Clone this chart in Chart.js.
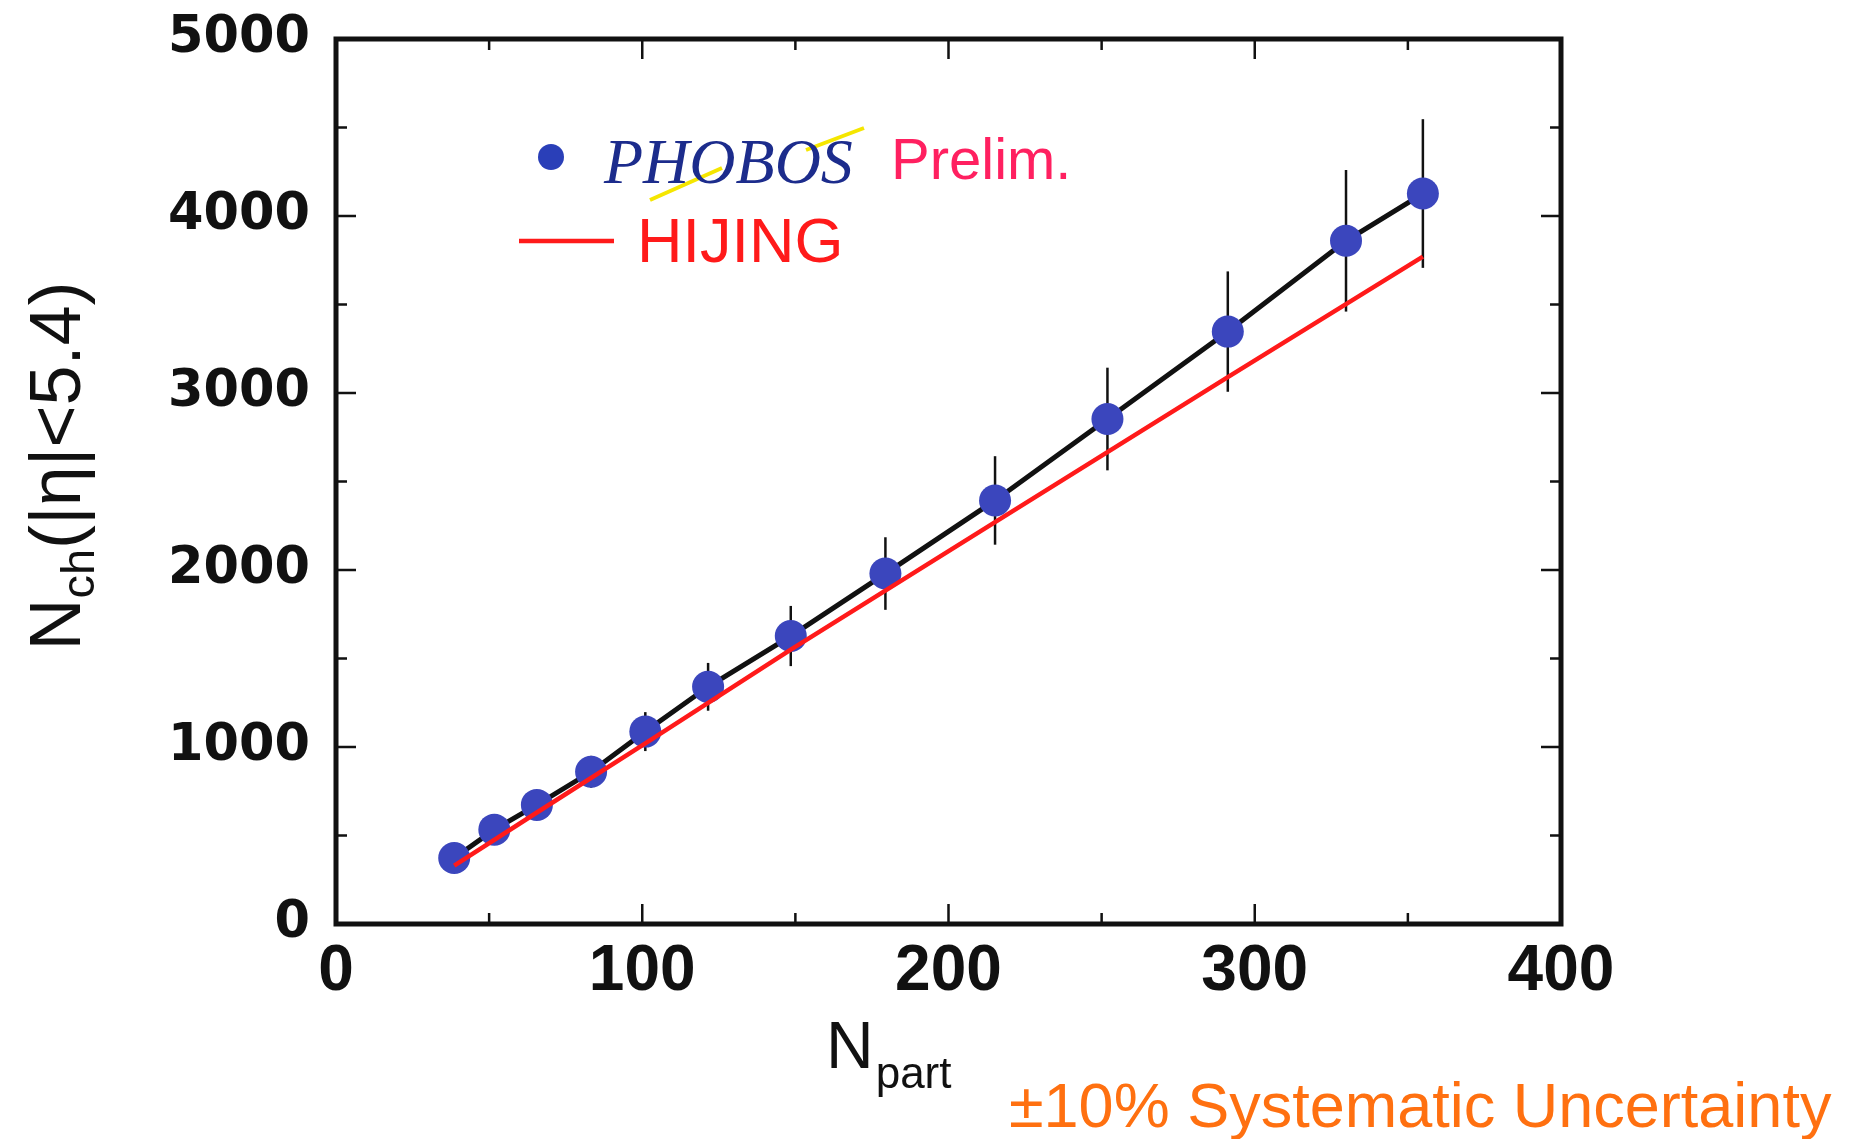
<!DOCTYPE html>
<html>
<head>
<meta charset="utf-8">
<script src="https://cdn.jsdelivr.net/npm/chart.js@4"></script>
<style>
  body { margin: 0; background: #fff; }
</style>
</head>
<body>
<canvas id="nchChart" width="1851" height="1139"></canvas>
<script>
// PHOBOS preliminary points
const nPart = [38.6, 51.7, 65.6, 83.3, 101, 121.5, 148.5, 179.4, 215.2, 251.9, 291.2, 329.8, 354.9];
const nCh = [373, 533, 673, 860, 1087, 1340, 1627, 1980, 2393, 2853, 3347, 3860, 4127];
const nChErr = [40, 55, 70, 90, 110, 135, 170, 205, 250, 290, 340, 400, 420];

// HIJING curve
const hijingNpart = [38.6, 65.6, 101, 148.5, 215.2, 291.2, 354.9];
const hijingNch = [330, 630, 1020, 1550, 2270, 3090, 3770];

const xTicks = [0, 100, 200, 300, 400];
const yTicks = [0, 1000, 2000, 3000, 4000, 5000];

const toXY = (xs, ys) => xs.map((x, i) => ({ x: x, y: ys[i] }));

const decor = {
  id: 'decor',
  beforeDatasetsDraw(chart) {
    const { ctx, scales: { x, y } } = chart;
    ctx.save();
    ctx.strokeStyle = '#111';
    ctx.lineWidth = 2.5;
    nPart.forEach((v, i) => {
      const px = x.getPixelForValue(v);
      ctx.beginPath();
      ctx.moveTo(px, y.getPixelForValue(nCh[i] + nChErr[i]));
      ctx.lineTo(px, y.getPixelForValue(nCh[i] - nChErr[i]));
      ctx.stroke();
    });
    ctx.restore();
  },
  afterDraw(chart) {
    const { ctx, chartArea: a, scales: { x, y } } = chart;
    ctx.save();
    // frame
    ctx.strokeStyle = '#111';
    ctx.lineWidth = 5;
    ctx.strokeRect(a.left, a.top, a.right - a.left, a.bottom - a.top);
    // inner ticks on all four sides
    ctx.lineWidth = 2.5;
    for (let v = 50; v < 400; v += 50) {
      const len = v % 100 === 0 ? 20 : 11;
      const px = x.getPixelForValue(v);
      ctx.beginPath();
      ctx.moveTo(px, a.bottom); ctx.lineTo(px, a.bottom - len);
      ctx.moveTo(px, a.top); ctx.lineTo(px, a.top + len);
      ctx.stroke();
    }
    for (let v = 500; v < 5000; v += 500) {
      const len = v % 1000 === 0 ? 20 : 11;
      const py = y.getPixelForValue(v);
      ctx.beginPath();
      ctx.moveTo(a.left, py); ctx.lineTo(a.left + len, py);
      ctx.moveTo(a.right, py); ctx.lineTo(a.right - len, py);
      ctx.stroke();
    }

    // y title, rotated
    ctx.fillStyle = '#111';
    ctx.textBaseline = 'alphabetic';
    ctx.textAlign = 'left';
    const big = '72px "Liberation Sans"', sub = '47px "Liberation Sans"';
    ctx.font = big; const wN = ctx.measureText('N').width;
    const rest = '(|η|<5.4)'; const wR = ctx.measureText(rest).width;
    ctx.font = sub; const wS = ctx.measureText('ch').width;
    const total = wN + wS + wR;
    ctx.translate(80, 466);
    ctx.rotate(-Math.PI / 2);
    let cx = -total / 2;
    ctx.font = big; ctx.fillText('N', cx, 0); cx += wN;
    ctx.font = sub; ctx.fillText('ch', cx, 14); cx += wS;
    ctx.font = big; ctx.fillText(rest, cx, 0);
    ctx.setTransform(1, 0, 0, 1, 0, 0);

    // x title
    ctx.font = '66px "Liberation Sans"';
    ctx.fillText('N', 826, 1068);
    const wx = ctx.measureText('N').width;
    ctx.font = '44px "Liberation Sans"';
    ctx.fillText('part', 826 + wx + 2, 1088);

    // systematic note
    ctx.fillStyle = '#ff7010';
    ctx.font = '63px "Liberation Sans"';
    ctx.fillText('±10% Systematic Uncertainty', 1009, 1127);

    // legend: PHOBOS
    ctx.fillStyle = '#2a3fb8';
    ctx.beginPath();
    ctx.arc(551, 157, 13, 0, Math.PI * 2);
    ctx.fill();
    ctx.strokeStyle = '#f5e600';
    ctx.lineWidth = 4;
    ctx.beginPath();
    ctx.moveTo(650, 200); ctx.lineTo(722, 168);
    ctx.moveTo(806, 150); ctx.lineTo(864, 128);
    ctx.stroke();
    ctx.fillStyle = '#1c2c8c';
    ctx.font = 'italic 64px "Liberation Serif"';
    ctx.fillText('PHOBOS', 604, 183);
    ctx.fillStyle = '#ff2060';
    ctx.font = '58px "Liberation Sans"';
    ctx.fillText('Prelim.', 891, 179);

    // legend: HIJING
    ctx.strokeStyle = '#ff1a1a';
    ctx.lineWidth = 4.5;
    ctx.beginPath();
    ctx.moveTo(519, 241); ctx.lineTo(614, 241);
    ctx.stroke();
    ctx.fillStyle = '#ff1a1a';
    ctx.font = '63px "Liberation Sans"';
    ctx.fillText('HIJING', 637, 262);
    ctx.restore();
  }
};

new Chart(document.getElementById('nchChart'), {
  type: 'scatter',
  data: {
    datasets: [
      { label: 'HIJING', data: toXY(hijingNpart, hijingNch), showLine: true, borderColor: '#ff1a1a', borderWidth: 4.5, pointRadius: 0 },
      { label: 'PHOBOS Prelim.', data: toXY(nPart, nCh), pointRadius: 16, pointBackgroundColor: '#3b46bd', pointBorderWidth: 0 },
      { label: 'line', data: toXY(nPart, nCh), showLine: true, borderColor: '#111', borderWidth: 5, pointRadius: 0 }
    ]
  },
  options: {
    responsive: false,
    animation: false,
    layout: { padding: { top: 39, right: 290, bottom: 0, left: 0 } },
    plugins: { legend: { display: false }, tooltip: { enabled: false } },
    scales: {
      x: {
        type: 'linear', min: 0, max: 400,
        afterBuildTicks: s => { s.ticks = xTicks.map(v => ({ value: v })); },
        afterFit: s => { s.height = 215; s.paddingLeft = 0; s.paddingRight = 0; },
        grid: { display: false },
        border: { display: false },
        ticks: { autoSkip: false, maxRotation: 0, padding: 2, color: '#111', callback: v => String(v), font: { family: 'Liberation Sans', weight: 'bold', size: 64 } }
      },
      y: {
        type: 'linear', min: 0, max: 5000,
        afterBuildTicks: s => { s.ticks = yTicks.map(v => ({ value: v })); },
        afterFit: s => { s.width = 336; s.paddingTop = 0; s.paddingBottom = 0; },
        grid: { display: false },
        border: { display: false },
        ticks: { autoSkip: false, padding: 18, color: '#111', callback: v => String(v), font: { family: 'DejaVu Sans', weight: 'bold', size: 51 } }
      }
    }
  },
  plugins: [decor]
});
</script>
</body>
</html>
